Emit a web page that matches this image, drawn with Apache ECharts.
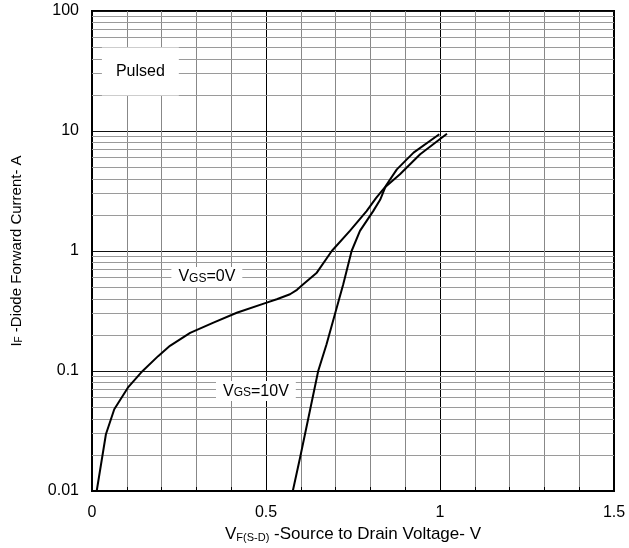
<!DOCTYPE html>
<html>
<head>
<meta charset="utf-8">
<script src="https://cdn.jsdelivr.net/npm/echarts@6/dist/echarts.min.js"></script>
<style>
html,body{margin:0;padding:0;background:#fff;}
#chart{width:629px;height:548px;}
</style>
</head>
<body>
<div id="chart"></div>
<script>
// ---- data ----
const vgs0V_x = [0.0135, 0.04, 0.064, 0.103, 0.141, 0.19, 0.224, 0.282, 0.349, 0.416, 0.502, 0.531, 0.569, 0.589, 0.607, 0.646, 0.689, 0.741, 0.789, 0.816, 0.842, 0.885, 0.943, 1.02];
const vgs0V_y = [0.01, 0.0297, 0.048, 0.0726, 0.097, 0.133, 0.162, 0.208, 0.253, 0.306, 0.371, 0.396, 0.436, 0.475, 0.528, 0.66, 1.0, 1.47, 2.15, 2.76, 3.4, 4.36, 6.4, 9.5];
const vgs10V_x = [0.577, 0.598, 0.626, 0.650, 0.674, 0.698, 0.722, 0.746, 0.770, 0.808, 0.828, 0.844, 0.876, 0.924, 0.998];
const vgs10V_y = [0.01, 0.019, 0.0464, 0.1, 0.167, 0.297, 0.528, 1.0, 1.47, 2.15, 2.67, 3.48, 4.79, 6.6, 9.4];
const xTickLabels = ['0', '0.5', '1', '1.5'];
const yTickLabels = ['0.01', '0.1', '1', '10', '100'];
const yMinorLines = [0.02,0.03,0.04,0.05,0.06,0.07,0.08,0.09, 0.2,0.3,0.4,0.5,0.6,0.7,0.8,0.9, 2,3,4,5,6,7,8,9, 20,30,40,50,60,70,80,90];
const seriesNames = ['VGS=0V', 'VGS=10V'];
const annotations = [
  {text: 'Pulsed', x: 0.139, y: 31.3},
  {text: 'VGS=0V', x: 0.330, y: 0.607},
  {text: 'VGS=10V', x: 0.471, y: 0.068}
];

const FONT = 'Liberation Sans, Arial, Helvetica, sans-serif';
const chart = echarts.init(document.getElementById('chart'), null, {renderer: 'canvas'});

function zip(xs, ys){ return xs.map((x,i)=>[x, ys[i]]); }
function annText(t){
  if (t.indexOf('VGS') === 0) return '{v|V}{g|GS}{v|' + t.slice(3) + '}';
  return '{v|' + t + '}';
}

const option = {
  animation: false,
  backgroundColor: '#fff',
  grid: {left: 92, right: 15, top: 11, bottom: 57, show: true, borderColor: '#000', borderWidth: 2, backgroundColor: 'transparent'},
  xAxis: {
    type: 'value', min: 0, max: 1.5, interval: 0.1,
    name: '{v|V}{sub|F(S-D)}{v| -Source to Drain Voltage- V}',
    nameLocation: 'middle', nameGap: 33,
    nameTextStyle: {rich: {
      v: {fontSize: 17, fontFamily: FONT, color: '#000', lineHeight: 19, verticalAlign: 'bottom'},
      sub: {fontSize: 11, fontFamily: FONT, color: '#000', lineHeight: 6, verticalAlign: 'bottom'}
    }},
    axisLine: {show: true, lineStyle: {color: '#000', width: 2}},
    axisTick: {show: true, inside: true, length: 4, lineStyle: {color: '#000', width: 1}},
    axisLabel: {
      margin: 14, fontSize: 16, fontFamily: FONT, color: '#000',
      formatter: function(v){
        const k = Math.round(v * 2);
        if (Math.abs(v * 2 - k) < 1e-6) return xTickLabels[k] || '';
        return '';
      }
    },
    splitLine: {show: true, lineStyle: {color: ['#000','#888','#888','#888','#888'], width: 1}}
  },
  yAxis: {
    type: 'log', logBase: 10, min: 0.01, max: 100,
    name: '{v|I}{sub|F}{v| -Diode Forward Current- A}',
    nameLocation: 'middle', nameGap: 68, nameRotate: 90,
    nameTextStyle: {rich: {
      v: {fontSize: 15, fontFamily: FONT, color: '#000', lineHeight: 17, verticalAlign: 'bottom'},
      sub: {fontSize: 10, fontFamily: FONT, color: '#000', lineHeight: 6, verticalAlign: 'bottom'}
    }},
    axisLine: {show: true, lineStyle: {color: '#000', width: 2}},
    axisTick: {show: false},
    axisLabel: {
      margin: 13, fontSize: 16, fontFamily: FONT, color: '#000',
      formatter: function(v){
        const k = Math.round(Math.log10(v)) + 2;
        return yTickLabels[k] !== undefined ? yTickLabels[k] : '';
      }
    },
    splitLine: {show: true, lineStyle: {color: '#111', width: 1}}
  },
  series: [
    {
      name: seriesNames[0], type: 'line', data: zip(vgs0V_x, vgs0V_y),
      showSymbol: false, smooth: false, z: 3,
      lineStyle: {color: '#000', width: 2},
      markLine: {
        silent: true, symbol: ['none','none'], z: 1, animation: false,
        label: {show: false},
        lineStyle: {color: '#9a9a9a', width: 1, type: 'solid'},
        emphasis: {disabled: true},
        data: yMinorLines.map(v => ({yAxis: v}))
      },
      markPoint: {
        silent: true, z: 6, symbol: 'rect', symbolSize: 0,
        itemStyle: {color: 'rgba(0,0,0,0)'},
        label: {
          show: true, position: 'inside', backgroundColor: '#fff',
          formatter: p => annText(p.name),
          rich: {
            v: {fontSize: 16, fontFamily: FONT, color: '#000', lineHeight: 16, verticalAlign: 'bottom'},
            g: {fontSize: 12, fontFamily: FONT, color: '#000', lineHeight: 12, verticalAlign: 'bottom'}
          }
        },
        data: annotations.map((a, i) => ({
          name: a.text, coord: [a.x, a.y],
          label: {padding: i === 0 ? [16, 14, 16, 14] : [2, 7, 2, 7]}
        }))
      }
    },
    {
      name: seriesNames[1], type: 'line', data: zip(vgs10V_x, vgs10V_y),
      showSymbol: false, smooth: false, z: 3,
      lineStyle: {color: '#000', width: 2}
    }
  ]
};
chart.setOption(option);
</script>
</body>
</html>
